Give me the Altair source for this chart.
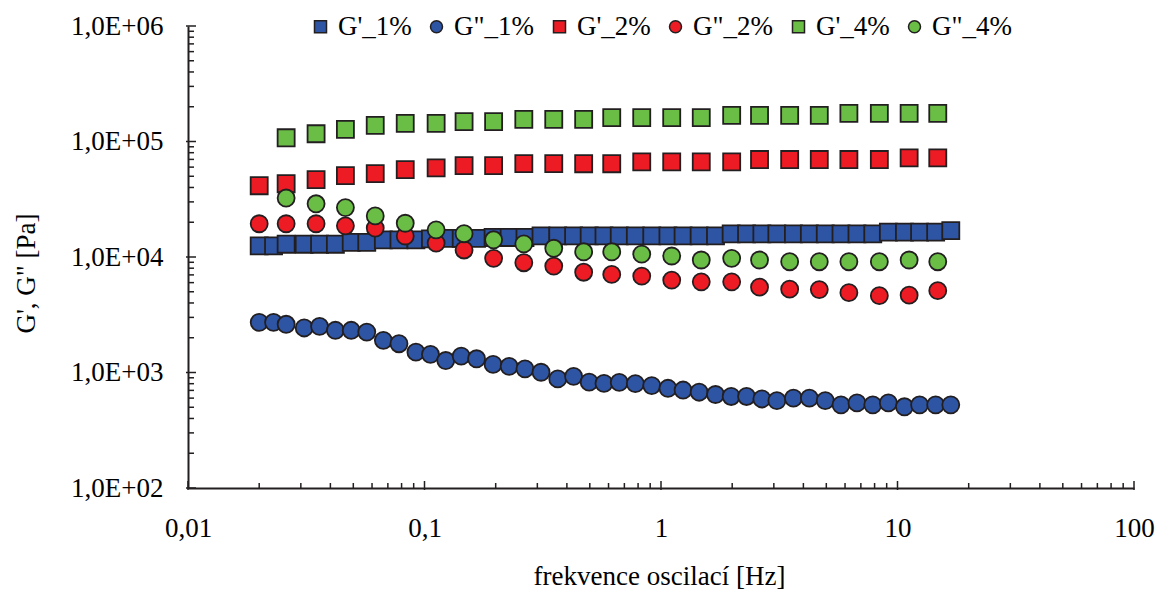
import altair as alt
import pandas as pd

# Oscillation frequencies [Hz]
freq_1pct = [0.020, 0.023, 0.026, 0.031, 0.036, 0.042, 0.049, 0.057, 0.067, 0.078,
             0.092, 0.106, 0.123, 0.143, 0.166, 0.195, 0.228, 0.266, 0.311, 0.366,
             0.427, 0.497, 0.574, 0.666, 0.779, 0.914, 1.07, 1.24, 1.45, 1.70,
             1.98, 2.30, 2.67, 3.09, 3.63, 4.24, 4.95, 5.77, 6.74, 7.86,
             9.15, 10.7, 12.4, 14.5, 16.8]
freq_2_4pct = [0.020, 0.026, 0.0348, 0.0463, 0.0619, 0.0829, 0.112, 0.147, 0.196, 0.263,
               0.352, 0.471, 0.619, 0.829, 1.11, 1.48, 1.99, 2.61, 3.50, 4.67,
               6.23, 8.38, 11.2, 14.8]

# Moduli [Pa]
g_storage_1 = [12500, 12500, 12900, 12900, 12900, 12900, 13400, 13400, 14050, 14050,
               14050, 14330, 14520, 14520, 14520, 14760, 14760, 14760, 15230, 15230,
               15230, 15230, 15230, 15230, 15230, 15230, 15230, 15230, 15230, 15230,
               15850, 15850, 15850, 15850, 15850, 15850, 15850, 15850, 15850, 15850,
               16400, 16400, 16400, 16400, 16930]
g_loss_1 = [2720, 2720, 2615, 2430, 2510, 2320, 2320, 2240, 1900, 1775,
            1500, 1435, 1270, 1385, 1315, 1175, 1130, 1075, 1005, 880,
            925, 825, 805, 820, 800, 770, 730, 705, 675, 645,
            620, 620, 590, 570, 600, 600, 570, 525, 545, 525,
            545, 505, 525, 525, 525]
g_storage_2 = [41400, 43100, 46700, 50600, 52700, 57100, 59100, 61800, 61800, 64400,
               64400, 64200, 64200, 66600, 66600, 66600, 66600, 69800, 69800, 69800,
               69800, 69800, 72200, 72200]
g_loss_2 = [19400, 19400, 19400, 18600, 17800, 15200, 13200, 11500, 9740, 8920,
            8350, 7380, 7070, 6840, 6310, 6100, 6100, 5480, 5270, 5220,
            4910, 4630, 4670, 5110]
# 4 % series starts at the second frequency
g_storage_4 = [107700, 116700, 127200, 137800, 143400, 143400, 148400, 148400, 155400,
               155400, 155400, 160700, 160700, 160700, 160700, 168300, 168300, 168300,
               168300, 175200, 175200, 175200, 175200]
g_loss_4 = [32400, 28900, 26800, 22700, 19600, 17200, 15900, 14100, 13000,
            11900, 11100, 11100, 10600, 10200, 9420, 9740, 9420, 9100,
            9100, 9100, 9100, 9420, 9100]

series_names = ["G'_1%", 'G"_1%', "G'_2%", 'G"_2%', "G'_4%", 'G"_4%']
series_colors = ["#2e54a4", "#2e54a4", "#ed1c24", "#ed1c24", "#6abd45", "#6abd45"]
series_shapes = ["square", "circle", "square", "circle", "square", "circle"]

series_data = [
    (series_names[0], freq_1pct, g_storage_1),
    (series_names[1], freq_1pct, g_loss_1),
    (series_names[2], freq_2_4pct, g_storage_2),
    (series_names[3], freq_2_4pct, g_loss_2),
    (series_names[4], freq_2_4pct[1:], g_storage_4),
    (series_names[5], freq_2_4pct[1:], g_loss_4),
]
rows = []
for name, fs, gs in series_data:
    for f, g in zip(fs, gs):
        rows.append({"f": f, "G": g, "series": name})
df = pd.DataFrame(rows)

W, H = 946, 462
FONT = "Liberation Serif"
INK = "#231f20"

x_enc = alt.X(
    "f:Q",
    scale=alt.Scale(type="log", domain=[0.01, 100], nice=False),
    axis=alt.Axis(
        values=[0.01, 0.1, 1, 10, 100],
        labelExpr="replace(format(datum.value, '~g'), '.', ',')",
        ticks=False, tickSize=0, grid=False,
        domainColor=INK, domainWidth=2,
        labelFont=FONT, labelFontSize=27, labelColor="black",
        labelPadding=40, labelBaseline="middle",
        labelFlush=False, labelOverlap=False, labelBound=False,
        title="frekvence oscilací [Hz]",
        titleFont=FONT, titleFontSize=27, titleFontWeight="normal", titleColor="black",
        titleX=471, titleY=88, titleAlign="center", titleBaseline="middle",
    ),
)
y_enc = alt.Y(
    "G:Q",
    scale=alt.Scale(type="log", domain=[100, 1e6], nice=False),
    axis=alt.Axis(
        values=[1e2, 1e3, 1e4, 1e5, 1e6],
        labelExpr="'1,0E+0' + format(log(datum.value) / LN10, '.0f')",
        ticks=False, tickSize=0, grid=False,
        domainColor=INK, domainWidth=2,
        labelFont=FONT, labelFontSize=27, labelColor="black",
        labelPadding=25, labelFlush=False, labelOverlap=False, labelBound=False,
        title="G', G\" [Pa]",
        titleFont=FONT, titleFontSize=27, titleFontWeight="normal", titleColor="black",
        titleX=-162, titleY=247, titleAngle=-90, titleAlign="center", titleBaseline="middle",
    ),
)

legend = alt.Legend(
    title=None, orient="none", direction="horizontal",
    legendX=119, legendY=-13,
)

points = alt.Chart(df).mark_point(
    filled=True, opacity=1, size=290, stroke=INK, strokeWidth=1.8
).encode(
    x=x_enc,
    y=y_enc,
    color=alt.Color("series:N", sort=series_names,
                    scale=alt.Scale(domain=series_names, range=series_colors), legend=legend),
    shape=alt.Shape("series:N", sort=series_names,
                    scale=alt.Scale(domain=series_names, range=series_shapes), legend=legend),
)

# Inward tick marks on both axes (decades long, 2..9 short)
x_major = [0.01, 0.1, 1, 10, 100]
x_minor = [k * d for d in (0.01, 0.1, 1, 10) for k in range(2, 10)]
y_major = [1e2, 1e3, 1e4, 1e5, 1e6]
y_minor = [k * d for d in (1e2, 1e3, 1e4, 1e5) for k in range(2, 10)]

x_minor_ticks = alt.Chart(pd.DataFrame({"f": x_minor})).mark_rule(
    color=INK, strokeWidth=1.5).encode(x=x_enc, y=alt.value(H), y2=alt.value(H - 5))
x_major_ticks = alt.Chart(pd.DataFrame({"f": x_major})).mark_rule(
    color=INK, strokeWidth=1.5).encode(x=x_enc, y=alt.value(H + 2), y2=alt.value(H - 7))
y_minor_ticks = alt.Chart(pd.DataFrame({"G": y_minor})).mark_rule(
    color=INK, strokeWidth=1.5).encode(y=y_enc, x=alt.value(0), x2=alt.value(6))
y_major_ticks = alt.Chart(pd.DataFrame({"G": y_major})).mark_rule(
    color=INK, strokeWidth=1.5).encode(y=y_enc, x=alt.value(-2), x2=alt.value(8))

chart = alt.layer(
    x_minor_ticks, x_major_ticks, y_minor_ticks, y_major_ticks, points
).properties(
    width=W, height=H,
    autosize=alt.AutoSizeParams(type="none"),
    padding={"left": 188, "top": 26, "right": 23, "bottom": 102},
    background="white",
).configure_view(
    stroke=None
).configure_legend(
    labelFont=FONT, labelFontSize=27, labelColor="black",
    labelOffset=4, columnPadding=11, symbolSize=144, padding=0,
    symbolStrokeColor=INK, symbolStrokeWidth=1.5, labelLimit=300,
)

chart.save("out.html", embed_options={"renderer": "svg", "actions": False})
